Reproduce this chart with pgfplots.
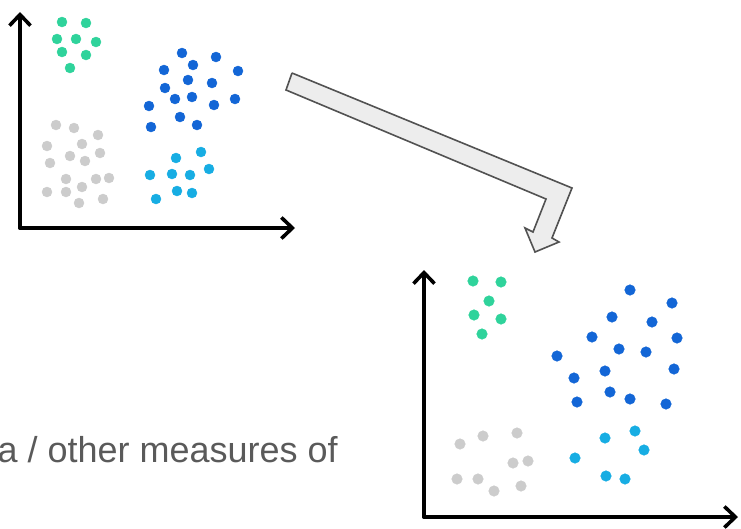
\documentclass[border=0pt]{standalone}
\usepackage{pgfplots}
\pgfplotsset{compat=1.18}
\usepackage{fontspec}
\setmainfont{Liberation Sans}
\usetikzlibrary{arrows.meta}
\definecolor{cgreen}{HTML}{2FD39B}
\definecolor{cdblue}{HTML}{1366D6}
\definecolor{clblue}{HTML}{17ADE3}
\definecolor{cgray}{HTML}{CCCCCC}
\definecolor{ctext}{HTML}{5A5A5A}
\begin{document}
\begin{tikzpicture}
\useasboundingbox (0,0) rectangle (741pt,528pt);
\begin{axis}[at={(0,0)},anchor=south west,scale only axis,width=741pt,height=528pt,
  xmin=0,xmax=741,ymin=0,ymax=528,y dir=reverse,hide axis,clip=false,
  every axis plot/.append style={only marks,mark=*,mark size=5pt},
  axarrow/.style={no marks,sharp plot,line width=3.6pt,line cap=round,-{Straight Barb[length=11pt,width=21pt,line width=3.6pt]}}]
% block arrow
\addplot[no marks,draw=black!68,line width=1.6pt,fill=black!7,line join=miter,sharp plot] coordinates {
(292,73) (572,188) (552,238) (559,242) (535,252) (525,228) (533,232) (546,199) (286,90) (292,73)};
% axes left
\addplot[axarrow] coordinates {(20,228) (20,12)};
\addplot[axarrow] coordinates {(20,228) (295,228)};
% axes right
\addplot[axarrow] coordinates {(424,517) (424,270)};
\addplot[axarrow] coordinates {(424,517) (738,517)};
% left scatter
\addplot[color=cgreen] coordinates {(62,22) (86,23) (57,39) (76,39) (96,42) (62,52) (86,55) (70,68)};
\addplot[color=cdblue] coordinates {(182,53) (216,57) (193,65) (164,70) (238,71) (188,80) (212,83) (165,88) (175,99) (192,97) (214,105) (235,99) (149,106) (180,117) (197,125) (151,127)};
\addplot[color=clblue] coordinates {(201,152) (176,158) (209,169) (150,175) (172,174) (190,175) (177,191) (192,193) (156,199)};
\addplot[color=cgray] coordinates {(56,125) (74,128) (98,135) (47,146) (82,144) (70,156) (100,153) (50,163) (85,161) (66,179) (96,179) (109,178) (82,187) (47,192) (66,192) (103,199) (79,203)};
% right scatter
\addplot[color=cgreen,mark size=5.3pt] coordinates {(473,281) (501,282) (489,301) (474,315) (501,319) (482,334)};
\addplot[color=cdblue,mark size=5.3pt] coordinates {(630,290) (672,303) (612,317) (652,322) (592,337) (677,338) (619,349) (646,352) (557,356) (605,371) (674,369) (574,378) (610,392) (630,399) (577,402) (666,404)};
\addplot[color=clblue,mark size=5.3pt] coordinates {(635,431) (605,438) (644,450) (575,458) (606,476) (625,479)};
\addplot[color=cgray,mark size=5.3pt] coordinates {(517,433) (483,436) (460,444) (513,463) (528,461) (457,479) (478,479) (521,486) (494,491)};
\node[anchor=base east,inner sep=0pt,text=ctext,font=\fontsize{36}{40}\selectfont] at (axis cs:338,462) {a / other measures of};
\end{axis}
\end{tikzpicture}
\end{document}
